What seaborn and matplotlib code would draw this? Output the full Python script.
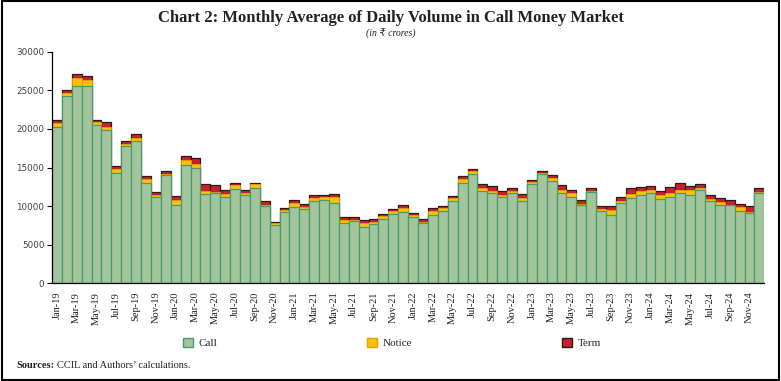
import numpy as np
import pandas as pd
import matplotlib
matplotlib.use("Agg")
import matplotlib.pyplot as plt
import matplotlib.patches as mpatches
import seaborn as sns

# monthly averages of daily volume (Rs crore), Jan-19 .. Dec-24
months = pd.date_range("2019-01-01", "2024-12-01", freq="MS").strftime("%b-%y").tolist()

call = [20200, 24300, 25600, 25600, 20450, 19900, 14300, 17800, 18400, 13000, 11150, 14000,
        10200, 15350, 14900, 11600, 11700, 11150, 12250, 11500, 12400, 9950, 7550, 9200,
        9850, 9600, 10650, 10750, 10450, 7750, 8050, 7250, 7650, 8300, 8950, 9300,
        8600, 7750, 8900, 9400, 10600, 12950, 14100, 11900, 11700, 11200, 11750, 10650,
        12850, 14150, 13300, 11750, 11150, 10200, 11850, 9350, 8900, 10350, 11100, 11500,
        11650, 10950, 11150, 11650, 11500, 12050, 10650, 10100, 10100, 9350, 9050, 11750]

notice = [600, 400, 1000, 750, 400, 350, 450, 250, 400, 550, 250, 100,
          550, 600, 600, 400, 150, 400, 450, 200, 400, 250, 220, 250,
          550, 250, 350, 400, 750, 450, 150, 500, 300, 450, 450, 400,
          250, 250, 450, 300, 400, 500, 400, 500, 300, 250, 250, 450,
          250, 150, 400, 400, 500, 100, 100, 250, 650, 350, 500, 500,
          450, 450, 600, 500, 550, 350, 250, 450, 100, 500, 200, 100]

term = [300, 400, 450, 550, 350, 700, 450, 400, 500, 400, 450, 400,
        500, 600, 750, 800, 850, 500, 350, 450, 250, 400, 230, 300,
        350, 400, 400, 350, 400, 400, 400, 400, 350, 200, 250, 450,
        300, 300, 400, 250, 300, 450, 300, 450, 600, 500, 300, 450,
        250, 250, 300, 550, 400, 500, 350, 400, 400, 450, 700, 450,
        550, 550, 700, 800, 600, 450, 500, 450, 550, 450, 700, 450]

df = pd.DataFrame({"Month": months, "Call": call, "Notice": notice, "Term": term})
df["CallNotice"] = df["Call"] + df["Notice"]
df["Total"] = df["CallNotice"] + df["Term"]

green = "#a3c59c"
green_edge = "#4a9a70"
yellow = "#ffc000"
yellow_edge = "#e0a000"
red = "#c8202c"
red_edge = "#2a1a1a"

sns.set_style("white")
plt.rcParams["font.family"] = ["Liberation Serif", "DejaVu Sans"]

fig = plt.figure(figsize=(7.81, 3.81), dpi=100)
ax = fig.add_axes([0.0666, 0.2564, 0.912, 0.6079])

# stacked bars drawn as overlapping cumulative totals
sns.barplot(data=df, x="Month", y="Total", color=red, width=1, edgecolor=red_edge,
            linewidth=0.9, saturation=1, ax=ax)
sns.barplot(data=df, x="Month", y="CallNotice", color=yellow, width=1, edgecolor=yellow_edge,
            linewidth=0.6, saturation=1, ax=ax)
sns.barplot(data=df, x="Month", y="Call", color=green, width=1, edgecolor=green_edge,
            linewidth=0.9, saturation=1, ax=ax)

ax.set_xlim(-0.5, len(months) - 0.5)
ax.set_ylim(0, 30000)
ax.set_xlabel("")
ax.set_ylabel("")

ax.set_yticks(range(0, 30001, 5000))
ax.set_yticklabels([str(v) for v in range(0, 30001, 5000)], family="DejaVu Sans",
                   fontsize=6.3, color="#404040")

pos = list(range(0, len(months), 2))
ax.set_xticks(pos)
ax.set_xticklabels([months[i] for i in pos], rotation=90, fontsize=7.5, color="#222222")
ax.set_xticks(np.arange(-0.5, len(months), 2), minor=True)
ax.tick_params(axis="x", which="major", length=0, pad=6)
ax.tick_params(axis="x", which="minor", length=4, width=0.8, color="black", direction="out")
ax.tick_params(axis="y", length=3.5, width=0.8, color="black", direction="out", pad=2, left=True)

for s in ["top", "right"]:
    ax.spines[s].set_visible(False)
for s in ["left", "bottom"]:
    ax.spines[s].set_color("black")
    ax.spines[s].set_linewidth(0.9)
ax.grid(False)

fig.text(0.5, 0.952, "Chart 2: Monthly Average of Daily Volume in Call Money Market",
         ha="center", va="center", fontsize=12, fontweight="bold", color="#222222")
fig.text(0.5, 0.91, "(in \u20b9 crores)", ha="center", va="center", fontsize=7,
         style="italic", color="#222222")

handles = [mpatches.Patch(facecolor=green, edgecolor=green_edge, label="Call"),
           mpatches.Patch(facecolor=yellow, edgecolor=yellow_edge, label="Notice"),
           mpatches.Patch(facecolor=red, edgecolor=red_edge, label="Term")]
fig.legend(handles=handles, loc="center left", bbox_to_anchor=(183 / 781, 1 - 343 / 381),
           ncol=3, frameon=False, fontsize=8, handlelength=0.9, handleheight=0.9,
           handletextpad=0.5, columnspacing=13.5, borderaxespad=0, borderpad=0)

t1 = fig.text(16 / 781, 1 - 366 / 381, "Sources:", ha="left", va="center",
              fontsize=7.5, fontweight="bold", color="#222222")
fig.canvas.draw()
bb = t1.get_window_extent(fig.canvas.get_renderer())
fig.text(bb.x1 / fig.bbox.width + 0.004, 1 - 366 / 381, "CCIL and Authors\u2019 calculations.",
         ha="left", va="center", fontsize=7.5, color="#222222")

fig.add_artist(mpatches.Rectangle((0.002, 0.003), 0.996, 0.994, transform=fig.transFigure,
                                  fill=False, edgecolor="black", linewidth=1.5))

fig.savefig("out.png", dpi=100)
